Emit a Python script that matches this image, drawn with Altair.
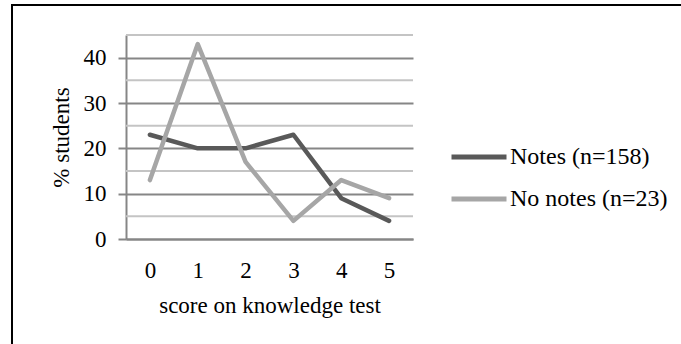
import altair as alt
import pandas as pd

scores = ["0", "1", "2", "3", "4", "5"]
notes = [23, 20, 20, 23, 9, 4]
no_notes = [13, 43, 17, 4, 13, 9]
series_names = ["Notes (n=158)", "No notes (n=23)"]
series_colors = ["#595959", "#a6a6a6"]
major_ticks = [0, 10, 20, 30, 40]
minor_grid = [5, 15, 25, 35, 45]

rows = []
for s, v in zip(scores, notes):
    rows.append({"score": s, "pct": v, "series": series_names[0]})
for s, v in zip(scores, no_notes):
    rows.append({"score": s, "pct": v, "series": series_names[1]})
df = pd.DataFrame(rows)
grid_df = pd.DataFrame({"g": minor_grid})

FONT = "Liberation Serif"
AXC = "#868686"

yscale = alt.Scale(domain=[0, 45], nice=False, zero=True)

minor = alt.Chart(grid_df).mark_rule(color="#c4c4c4", strokeWidth=2).encode(
    y=alt.Y("g:Q", scale=yscale)
)

lines = alt.Chart(df).mark_line(strokeWidth=4.5, strokeCap="round", strokeJoin="round").encode(
    x=alt.X(
        "score:O",
        sort=scores,
        scale=alt.Scale(type="point", padding=0.5),
        axis=alt.Axis(
            title="score on knowledge test",
            labelAngle=0,
            ticks=False,
            labelPadding=20,
            titlePadding=12,
            domainColor=AXC,
            domainWidth=2,
            grid=False,
        ),
    ),
    y=alt.Y(
        "pct:Q",
        scale=yscale,
        axis=alt.Axis(
            title="% students",
            values=major_ticks,
            tickSize=8,
            tickColor=AXC,
            tickWidth=2,
            labelPadding=12,
            titlePadding=10,
            domainColor=AXC,
            domainWidth=2,
            grid=True,
            gridColor=AXC,
            gridWidth=2,
        ),
    ),
    color=alt.Color(
        "series:N",
        scale=alt.Scale(domain=series_names, range=series_colors),
        legend=alt.Legend(
            title=None,
            orient="none",
            legendX=323,
            legendY=92,
            symbolType="stroke",
            symbolSize=3025,
            symbolStrokeWidth=5,
            labelOffset=1,
            rowPadding=-1,
            labelFontSize=24,
            labelFont=FONT,
            labelColor="black",
            labelLimit=300,
        ),
    ),
    detail="series:N",
)

frame = alt.Chart(pd.DataFrame({"a": [0]})).mark_rect(
    filled=False, stroke="black", strokeWidth=2
).encode(
    x=alt.value(-114), x2=alt.value(560), y=alt.value(-30), y2=alt.value(314)
)

chart = alt.layer(minor, lines, frame).properties(
    width=287,
    height=204,
    background="white",
    autosize=alt.AutoSizeParams(type="none"),
    padding={"left": 126, "top": 35, "right": 268, "bottom": 105},
).configure_view(stroke=None).configure_axis(
    labelFont=FONT,
    titleFont=FONT,
    labelFontSize=23,
    titleFontSize=23,
    labelColor="black",
    titleColor="black",
    titleFontWeight="normal",
).configure_legend(
    labelFont=FONT,
    labelFontSize=24,
    labelColor="black",
)

chart.save("out.html", embed_options={"renderer": "svg", "actions": False})
